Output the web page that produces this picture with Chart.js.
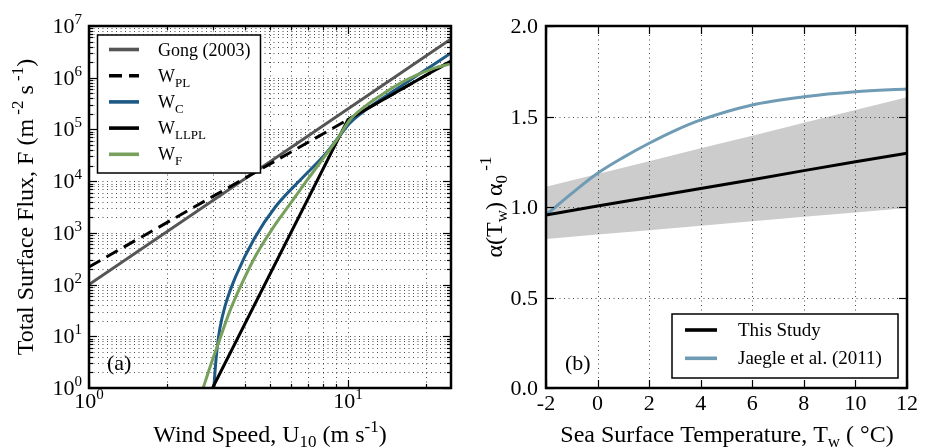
<!DOCTYPE html>
<html>
<head>
<meta charset="utf-8">
<script src="https://cdn.jsdelivr.net/npm/chart.js@4/dist/chart.umd.min.js"></script>
<style>
  html, body { margin: 0; padding: 0; background: #ffffff; }
  #wrap { position: relative; width: 930px; height: 447px; overflow: hidden; background: #fff; }
  canvas { position: absolute; top: 0; }
  #panelA { left: 0; }
  #panelB { left: 470px; }
</style>
</head>
<body>
<div id="wrap">
  <canvas id="panelA" width="470" height="447"></canvas>
  <canvas id="panelB" width="460" height="447"></canvas>
</div>
<script>
// ---------- Panel (a): total surface flux against wind speed ----------
const gongWind = [1, 25];
const gongFlux = [100, 5.6e6];

const plWind = [1, 25];
const plFlux = [220, 2.1e6];

const cWind = [3.035, 3.075, 3.13, 3.20, 3.35, 3.70, 4.35, 5.25, 6.6, 8.2, 9.04, 10.2, 11.8, 13.7, 15.9, 18.4, 21.3, 25];
const cFlux = [1, 2.5, 6.3, 14, 38, 150, 780, 3200, 1.1e4, 3.4e4, 6.3e4, 1.35e5, 2.45e5, 4.1e5, 6.7e5, 1.09e6, 1.77e6, 3.0e6];

const llplWind = [3.0, 10.0, 25];
const llplFlux = [1, 1.55e5, 2.1e6];

const fWind = [2.76, 2.93, 3.185, 3.50, 3.94, 4.44, 5.15, 5.97, 6.93, 8.28, 9.04, 10.2, 11.8, 13.7, 15.9, 18.4, 21.3, 25];
const fFlux = [1, 2.5, 8.2, 31, 119, 390, 1280, 3600, 1.02e4, 3.4e4, 6.2e4, 1.55e5, 2.95e5, 4.9e5, 7.8e5, 1.12e6, 1.5e6, 1.86e6];

const fluxTickExponents = [0, 1, 2, 3, 4, 5, 6, 7];
const windTickExponents = [0, 1];
const windTickValues = [1, 2, 3, 4, 5, 6, 7, 8, 9, 10, 20];

// ---------- Panel (b): whitecap coefficient against sea surface temperature ----------
const sstLine = [-2, 0, 2, 4, 6, 8, 10, 12];
const thisStudy = [0.956, 1.006, 1.054, 1.102, 1.151, 1.201, 1.250, 1.297];
const bandUpper = [1.112, 1.183, 1.253, 1.324, 1.394, 1.465, 1.536, 1.606];
const bandLower = [0.823, 0.848, 0.872, 0.897, 0.921, 0.946, 0.970, 0.995];

const sstJaegle = [-2, -1, 0, 1, 2, 3, 4, 6, 8, 10, 12];
const jaegle = [0.956, 1.075, 1.186, 1.274, 1.352, 1.422, 1.481, 1.564, 1.609, 1.637, 1.652];

const sstTicks = [-2, 0, 2, 4, 6, 8, 10, 12];
const alphaTicks = [0.0, 0.5, 1.0, 1.5, 2.0];

// ---------- shared drawing helpers ----------
const SERIF = '"Liberation Serif", "Times New Roman", "DejaVu Serif", serif';
const font = (size) => size + 'px ' + SERIF;

function pairs(xs, ys) { return xs.map((x, i) => ({ x: x, y: ys[i] })); }

// parts: [text, size, baselineShift]
function drawRich(ctx, parts, x, y, align) {
  const widths = [];
  let total = 0;
  for (const p of parts) {
    ctx.font = font(p[1]);
    const w = ctx.measureText(p[0]).width;
    widths.push(w);
    total += w;
  }
  let cx = align === 'center' ? x - total / 2 : (align === 'right' ? x - total : x);
  ctx.textAlign = 'left';
  ctx.textBaseline = 'alphabetic';
  ctx.fillStyle = '#000';
  parts.forEach((p, i) => {
    ctx.font = font(p[1]);
    ctx.fillText(p[0], cx, y + (p[2] || 0));
    cx += widths[i];
  });
}

function drawGrid(chart) {
  const { ctx, chartArea: a, scales } = chart;
  ctx.save();
  ctx.beginPath();
  ctx.rect(a.left, a.top, a.right - a.left, a.bottom - a.top);
  ctx.clip();
  ctx.strokeStyle = 'rgba(0,0,0,0.7)';
  ctx.lineWidth = 1;
  ctx.setLineDash([1, 3.5]);
  for (const t of scales.x.ticks) {
    const px = Math.round(scales.x.getPixelForValue(t.value)) + 0.5;
    ctx.beginPath(); ctx.moveTo(px, a.top); ctx.lineTo(px, a.bottom); ctx.stroke();
  }
  for (const t of scales.y.ticks) {
    const py = Math.round(scales.y.getPixelForValue(t.value)) + 0.5;
    ctx.beginPath(); ctx.moveTo(a.left, py); ctx.lineTo(a.right, py); ctx.stroke();
  }
  ctx.restore();
}

function drawFrame(chart, isMajor) {
  const { ctx, chartArea: a, scales } = chart;
  ctx.save();
  ctx.strokeStyle = '#000';
  ctx.lineWidth = 1.2;
  ctx.setLineDash([]);
  const seg = (x0, y0, x1, y1) => { ctx.beginPath(); ctx.moveTo(x0, y0); ctx.lineTo(x1, y1); ctx.stroke(); };
  for (const t of scales.x.ticks) {
    const px = Math.round(scales.x.getPixelForValue(t.value)) + 0.5;
    const len = isMajor(t.value) ? 8 : 4;
    seg(px, a.bottom, px, a.bottom - len);
    seg(px, a.top, px, a.top + len);
  }
  for (const t of scales.y.ticks) {
    const py = Math.round(scales.y.getPixelForValue(t.value)) + 0.5;
    const len = isMajor(t.value) ? 8 : 4;
    seg(a.left, py, a.left + len, py);
    seg(a.right, py, a.right - len, py);
  }
  ctx.lineWidth = 2.5;
  ctx.strokeRect(a.left, a.top, a.right - a.left, a.bottom - a.top);
  ctx.restore();
}

function drawLegend(ctx, chart, box, entries, hx0, hx1, textX, y0, dy) {
  ctx.save();
  ctx.fillStyle = '#fff';
  ctx.fillRect(box.x, box.y, box.w, box.h);
  ctx.strokeStyle = '#000';
  ctx.lineWidth = 1.5;
  ctx.strokeRect(box.x, box.y, box.w, box.h);
  entries.forEach((e, i) => {
    const ds = chart.data.datasets[e.index];
    const y = y0 + i * dy;
    ctx.strokeStyle = ds.borderColor;
    ctx.lineWidth = ds.borderWidth + 0.6;
    ctx.lineCap = 'butt';
    ctx.setLineDash(ds.borderDash || []);
    ctx.beginPath(); ctx.moveTo(hx0, y); ctx.lineTo(hx1, y); ctx.stroke();
    ctx.setLineDash([]);
    drawRich(ctx, e.label, textX, y + 6, 'left');
  });
  ctx.restore();
}

function panelPlugin(cfg) {
  return {
    id: 'panelFrame',
    beforeDatasetsDraw(chart) { if (cfg.gridAfter === undefined) drawGrid(chart); },
    afterDatasetDraw(chart, args) { if (cfg.gridAfter === args.index) drawGrid(chart); },
    afterDraw(chart) { drawFrame(chart, cfg.isMajor); cfg.decorate(chart); }
  };
}

const isDecade = (v) => Math.abs(Math.log10(v) - Math.round(Math.log10(v))) < 1e-9;

function decadeTicks(exps) {
  const out = [];
  exps.forEach((e, i) => {
    for (let m = 1; m <= 9; m++) {
      if (i === exps.length - 1 && m > 1) break;
      out.push(m * Math.pow(10, e));
    }
  });
  return out;
}

const baseOptions = {
  responsive: false,
  animation: false,
  events: [],
  plugins: { legend: { display: false }, tooltip: { enabled: false } },
  elements: { point: { radius: 0 } }
};

function hiddenAxis(extra) {
  return Object.assign({
    display: true,
    grid: { display: false, drawTicks: false },
    border: { display: false },
    ticks: { display: false }
  }, extra);
}

// ---------- Panel (a) ----------
const fluxDatasets = [
  { label: 'W_F', data: pairs(fWind, fFlux), borderColor: '#77a05c', borderWidth: 3, cubicInterpolationMode: 'monotone' },
  { label: 'W_LLPL', data: pairs(llplWind, llplFlux), borderColor: '#000000', borderWidth: 3, tension: 0 },
  { label: 'W_C', data: pairs(cWind, cFlux), borderColor: '#1c5985', borderWidth: 3, cubicInterpolationMode: 'monotone' },
  { label: 'W_PL', data: pairs(plWind, plFlux), borderColor: '#000000', borderWidth: 3, borderDash: [13, 7], tension: 0 },
  { label: 'Gong (2003)', data: pairs(gongWind, gongFlux), borderColor: '#555555', borderWidth: 3, tension: 0 }
];
fluxDatasets.forEach(d => { d.fill = false; d.pointRadius = 0; });

const fluxLegend = [
  { index: 4, label: [['Gong (2003)', 18]] },
  { index: 3, label: [['W', 18], ['PL', 13, 5]] },
  { index: 2, label: [['W', 18], ['C', 13, 5]] },
  { index: 1, label: [['W', 18], ['LLPL', 13, 5]] },
  { index: 0, label: [['W', 18], ['F', 13, 5]] }
];

new Chart(document.getElementById('panelA'), {
  type: 'line',
  data: { datasets: fluxDatasets },
  options: Object.assign({}, baseOptions, {
    layout: { padding: { left: 89, top: 26, right: 19, bottom: 59 } },
    scales: {
      x: hiddenAxis({
        type: 'logarithmic', min: 1, max: 25,
        afterBuildTicks: (s) => { s.ticks = windTickValues.map(v => ({ value: v })); },
        afterFit: (s) => { s.height = 0; }
      }),
      y: hiddenAxis({
        type: 'logarithmic', min: 1, max: 1e7,
        afterBuildTicks: (s) => { s.ticks = decadeTicks(fluxTickExponents).map(v => ({ value: v })); },
        afterFit: (s) => { s.width = 0; }
      })
    }
  }),
  plugins: [panelPlugin({
    isMajor: isDecade,
    decorate(chart) {
      const ctx = chart.ctx, sx = chart.scales.x, sy = chart.scales.y;
      fluxTickExponents.forEach(e => {
        const y = sy.getPixelForValue(Math.pow(10, e));
        drawRich(ctx, [['10', 22], [String(e), 15, -9]], 82, y + 7, 'right');
      });
      windTickExponents.forEach(e => {
        const x = sx.getPixelForValue(Math.pow(10, e));
        drawRich(ctx, [['10', 22], [String(e), 15, -9]], x, 408, 'center');
      });
      drawRich(ctx, [['Wind Speed, U', 24], ['10', 17, 5], [' (m s', 24], ['-1', 17, -10], [')', 24]], 270, 442, 'center');
      ctx.save();
      ctx.translate(33, 207);
      ctx.rotate(-Math.PI / 2);
      drawRich(ctx, [['Total Surface Flux, F (m', 24], [' -2', 17, -10], [' s', 24], [' -1', 17, -10], [')', 24]], 0, 0, 'center');
      ctx.restore();
      drawRich(ctx, [['(a)', 22]], 107, 370, 'left');
      drawLegend(ctx, chart, { x: 97.5, y: 35, w: 163, h: 138 }, fluxLegend, 109, 139, 158, 49.5, 26.2);
    }
  })]
});

// ---------- Panel (b) ----------
const alphaDatasets = [
  { label: 'This Study', data: pairs(sstLine, thisStudy), borderColor: '#000000', borderWidth: 3, tension: 0, fill: false },
  { label: 'Jaegle et al. (2011)', data: pairs(sstJaegle, jaegle), borderColor: '#6f9bb5', borderWidth: 3, cubicInterpolationMode: 'monotone', fill: false },
  { label: 'range upper', data: pairs(sstLine, bandUpper), borderColor: 'rgba(0,0,0,0)', borderWidth: 0, backgroundColor: '#cccccc', fill: '+1', tension: 0 },
  { label: 'range lower', data: pairs(sstLine, bandLower), borderColor: 'rgba(0,0,0,0)', borderWidth: 0, fill: false, tension: 0 }
];
alphaDatasets.forEach(d => { d.pointRadius = 0; });

const alphaLegend = [
  { index: 0, label: [['This Study', 19]] },
  { index: 1, label: [['Jaegle et al. (2011)', 19]] }
];

new Chart(document.getElementById('panelB'), {
  type: 'line',
  data: { datasets: alphaDatasets },
  options: Object.assign({}, baseOptions, {
    layout: { padding: { left: 76, top: 26, right: 23, bottom: 59 } },
    scales: {
      x: hiddenAxis({
        type: 'linear', min: -2, max: 12,
        afterBuildTicks: (s) => { s.ticks = sstTicks.map(v => ({ value: v })); },
        afterFit: (s) => { s.height = 0; }
      }),
      y: hiddenAxis({
        type: 'linear', min: 0, max: 2,
        afterBuildTicks: (s) => { s.ticks = alphaTicks.map(v => ({ value: v })); },
        afterFit: (s) => { s.width = 0; }
      })
    }
  }),
  plugins: [panelPlugin({
    gridAfter: 2,
    isMajor: () => true,
    decorate(chart) {
      const ctx = chart.ctx, sx = chart.scales.x, sy = chart.scales.y;
      alphaTicks.forEach(v => {
        drawRich(ctx, [[v.toFixed(1), 22]], 68, sy.getPixelForValue(v) + 7, 'right');
      });
      sstTicks.forEach(v => {
        drawRich(ctx, [[String(v), 22]], sx.getPixelForValue(v), 410, 'center');
      });
      drawRich(ctx, [['Sea Surface Temperature, T', 24], ['w', 17, 5], [' ( °C)', 24]], 257, 442, 'center');
      ctx.save();
      ctx.translate(32, 207);
      ctx.rotate(-Math.PI / 2);
      drawRich(ctx, [['α(T', 24], ['w', 17, 5], [') α', 24], ['0', 17, 5], [' -1', 17, -11]], 0, 0, 'center');
      ctx.restore();
      drawRich(ctx, [['(b)', 22]], 95, 370, 'left');
      drawLegend(ctx, chart, { x: 202, y: 314, w: 226, h: 64 }, alphaLegend, 215, 247, 268, 330, 28.3);
    }
  })]
});
</script>
</body>
</html>
